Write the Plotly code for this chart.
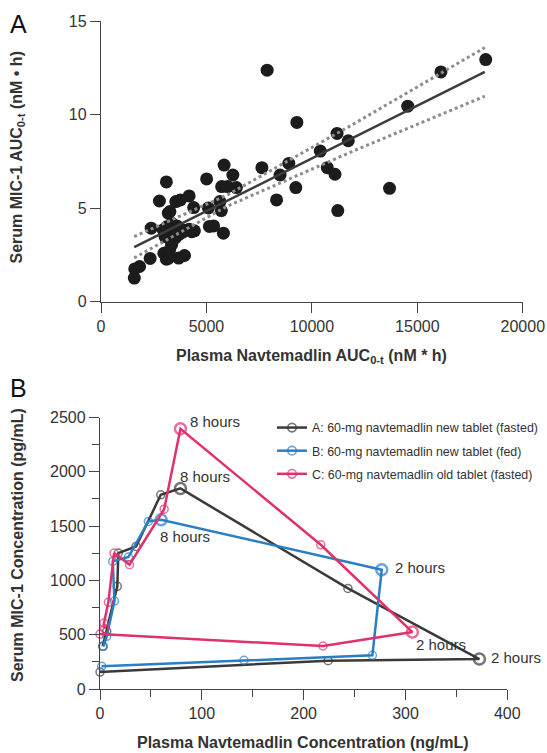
import plotly.graph_objects as go

# ---------------- Panel A data ----------------
auc_plasma = [1600, 1580, 1830, 2330, 2380, 2770, 3100, 2980, 3100, 2950,
              3130, 3036, 3193, 3267, 3354, 3510, 3350, 3250, 3193, 3550,
              3765, 3904, 3700, 3600, 3682, 3960, 4179, 4303, 4179, 4395,
              4428, 3450, 5008, 5091, 5141, 5340, 5638, 5705, 5804, 5837,
              5721, 6003, 6252, 6418, 7629, 7877, 8325, 8491, 8905, 9237,
              9287, 10398, 10730, 11095, 11194, 11227, 11725, 13682, 14544,
              16119, 18242, 3478, 3317, 3878]
auc_mic1 = [1.75, 1.26, 1.88, 2.31, 3.93, 5.38, 6.40, 2.59, 2.27, 3.84,
            4.01, 3.48, 4.73, 4.82, 4.19, 3.39, 3.05, 2.75, 2.32, 5.35,
            5.44, 3.83, 3.60, 4.05, 2.33, 2.47, 5.65, 3.74, 3.87, 5.03,
            3.79, 3.70, 6.56, 5.01, 4.02, 4.05, 5.35, 4.87, 3.66, 7.30,
            6.15, 6.15, 6.77, 6.10, 7.16, 12.37, 5.44, 6.77, 7.39, 6.10,
            9.58, 8.05, 7.16, 6.81, 8.99, 4.87, 8.60, 6.06, 10.45,
            12.28, 12.94, 3.81, 3.28, 3.72]
fit_x = [1575, 18200]
fit_y = [2.91, 12.28]
ci_x = [1575, 6000, 12000, 18200]
ci_upper = [3.48, 5.71, 9.51, 13.58]
ci_lower = [2.34, 5.11, 8.07, 10.98]
a_xticks = [0, 5000, 10000, 15000, 20000]
a_xticklabels = ["0", "5000", "10000", "15000", "20000"]
a_yticks = [0, 5, 10, 15]

# ---------------- Panel B data ----------------
a_name = "A: 60-mg navtemadlin new tablet (fasted)"
a_plasma = [0, 224, 372.6, 243.5, 79, 59.7, 35.4, 18, 17, 6.6, 2.6]
a_mic1 = [156, 261, 276, 926, 1847, 1788, 1313, 1252, 945, 531, 393]
a_labels = ["", "", "2 hours", "", "8 hours", "", "", "", "", "", ""]

b_name = "B: 60-mg navtemadlin new tablet (fed)"
b_plasma = [1.6, 141.4, 267.5, 276.7, 60, 47.5, 27.9, 12.5, 14.2, 6.6, 3.3]
b_mic1 = [209, 264, 310, 1098, 1558, 1543, 1215, 1175, 810, 485, 393]
b_labels = ["", "", "", "2 hours", "8 hours", "", "", "", "", "", ""]

c_name = "C: 60-mg navtemadlin old tablet (fasted)"
c_plasma = [0, 219, 306.8, 216.8, 79, 63, 29, 13.8, 8.2, 3.9, 4.5]
c_mic1 = [506, 396, 524, 1328, 2396, 1656, 1144, 1252, 798, 607, 555]
c_labels = ["", "", "2 hours", "", "8 hours", "", "", "", "", "", ""]

b_xticks = [0, 100, 200, 300, 400]
b_xminor = [50, 150, 250, 350]
b_yticks = [0, 500, 1000, 1500, 2000, 2500]
b_yminor = [250, 750, 1250, 1750, 2250]

FONT = "Liberation Sans, Arial, sans-serif"
TXT = "#333333"
AX = "#444444"

fig = go.Figure()

# Panel A
fig.add_trace(go.Scatter(x=auc_plasma, y=auc_mic1, mode="markers",
                         marker=dict(size=13, color="#1c1c1c"),
                         showlegend=False, xaxis="x", yaxis="y", cliponaxis=False))
fig.add_trace(go.Scatter(x=ci_x, y=ci_upper, mode="lines",
                         line=dict(color="#8c8c8c", width=3, dash="dot"),
                         showlegend=False, xaxis="x", yaxis="y"))
fig.add_trace(go.Scatter(x=ci_x, y=ci_lower, mode="lines",
                         line=dict(color="#8c8c8c", width=3, dash="dot"),
                         showlegend=False, xaxis="x", yaxis="y"))
fig.add_trace(go.Scatter(x=fit_x, y=fit_y, mode="lines",
                         line=dict(color="#3c3c3c", width=2.5),
                         showlegend=False, xaxis="x", yaxis="y"))

# Panel B
series = [
    (a_name, a_plasma, a_mic1, a_labels, "#3a3a3a", "ga"),
    (b_name, b_plasma, b_mic1, b_labels, "#2a7ec4", "gb"),
    (c_name, c_plasma, c_mic1, c_labels, "#e0306e", "gc"),
]
for name, xs, ys, labs, col, grp in series:
    sizes = [11 if l else 8 for l in labs]
    widths = [2.5 if l else 1.5 for l in labs]
    fig.add_trace(go.Scatter(
        x=xs, y=ys, mode="lines+markers", name=name, legendgroup=grp,
        line=dict(color=col, width=2.5),
        marker=dict(symbol="circle-open", size=sizes, color=col,
                    line=dict(width=widths, color=col)),
        xaxis="x2", yaxis="y2", cliponaxis=False))

# Hour annotations (offsets tuned per label)
offsets = {
    ("#e0306e", "8 hours"): (8, 7),
    ("#3a3a3a", "8 hours"): (-2, 12),
    ("#2a7ec4", "8 hours"): (-3, -17),
    ("#2a7ec4", "2 hours"): (11, 2),
    ("#e0306e", "2 hours"): (2, -12),
    ("#3a3a3a", "2 hours"): (10, 2),
}
annotations = []
for name, xs, ys, labs, col, grp in series:
    for xv, yv, lab in zip(xs, ys, labs):
        if lab:
            dx, dy = offsets[(col, lab)]
            annotations.append(dict(x=xv, y=yv, xref="x2", yref="y2", text=lab,
                                    showarrow=False, xanchor="left", yanchor="middle",
                                    xshift=dx, yshift=dy,
                                    font=dict(family=FONT, size=15, color=TXT)))

W, H = 547, 753
# Panel letters
annotations.append(dict(x=8 / W, y=1 - 8 / H, xref="paper", yref="paper", text="A",
                        showarrow=False, xanchor="left", yanchor="top",
                        font=dict(family=FONT, size=25, color="#111")))
annotations.append(dict(x=8 / W, y=1 - 372 / H, xref="paper", yref="paper", text="B",
                        showarrow=False, xanchor="left", yanchor="top",
                        font=dict(family=FONT, size=25, color="#111")))
# Axis titles
annotations.append(dict(x=16.5 / W, y=1 - 158 / H, xref="paper", yref="paper",
                        text="Serum MIC-1 AUC<sub>0-t</sub> (nM • h)", textangle=-90,
                        showarrow=False, xanchor="center", yanchor="middle",
                        font=dict(family=FONT, size=16, color=TXT, weight="bold")))
annotations.append(dict(x=312 / W, y=1 - 356 / H, xref="paper", yref="paper",
                        text="Plasma Navtemadlin AUC<sub>0-t</sub> (nM * h)",
                        showarrow=False, xanchor="center", yanchor="middle",
                        font=dict(family=FONT, size=16, color=TXT, weight="bold")))
annotations.append(dict(x=17 / W, y=1 - 545 / H, xref="paper", yref="paper",
                        text="Serum MIC-1 Concentration (pg/mL)", textangle=-90,
                        showarrow=False, xanchor="center", yanchor="middle",
                        font=dict(family=FONT, size=16, color=TXT, weight="bold")))
annotations.append(dict(x=303 / W, y=1 - 742 / H, xref="paper", yref="paper",
                        text="Plasma Navtemadlin Concentration (ng/mL)",
                        showarrow=False, xanchor="center", yanchor="middle",
                        font=dict(family=FONT, size=16, color=TXT, weight="bold")))

axis_common = dict(showline=True, linecolor=AX, linewidth=1.3, ticks="outside",
                   ticklen=10, tickwidth=1.3, tickcolor=AX, showgrid=False,
                   zeroline=False, tickfont=dict(family=FONT, size=16, color=TXT))

fig.update_layout(
    width=W, height=H, autosize=False,
    margin=dict(l=0, r=0, t=0, b=0, autoexpand=False),
    paper_bgcolor="white", plot_bgcolor="white",
    font=dict(family=FONT, color=TXT),
    xaxis=dict(domain=[101 / W, 522.8 / W], range=[0, 20000], tickvals=a_xticks,
               ticktext=a_xticklabels, anchor="y", **axis_common),
    yaxis=dict(domain=[1 - 301.7 / H, 1 - 21 / H], range=[0, 15], tickvals=a_yticks,
               anchor="x", **axis_common),
    xaxis2=dict(domain=[100 / W, 507.3 / W], range=[0, 400], tickvals=b_xticks,
                minor=dict(tickvals=b_xminor, ticks="outside", ticklen=7,
                           tickwidth=1.3, tickcolor=AX),
                anchor="y2", **axis_common),
    yaxis2=dict(domain=[1 - 689 / H, 1 - 417.5 / H], range=[0, 2500],
                tickvals=b_yticks,
                minor=dict(tickvals=b_yminor, ticks="outside", ticklen=7,
                           tickwidth=1.3, tickcolor=AX),
                anchor="x2", **axis_common),
    legend=dict(x=272 / W, y=1 - 413 / H, xanchor="left", yanchor="top",
                bgcolor="rgba(0,0,0,0)", tracegroupgap=4,
                font=dict(family=FONT, size=12.4, color=TXT)),
    annotations=annotations,
)

fig.write_html("out.html", config={"responsive": False, "displayModeBar": False},
               post_script="document.body.style.margin='0';document.body.style.overflow='hidden';")
